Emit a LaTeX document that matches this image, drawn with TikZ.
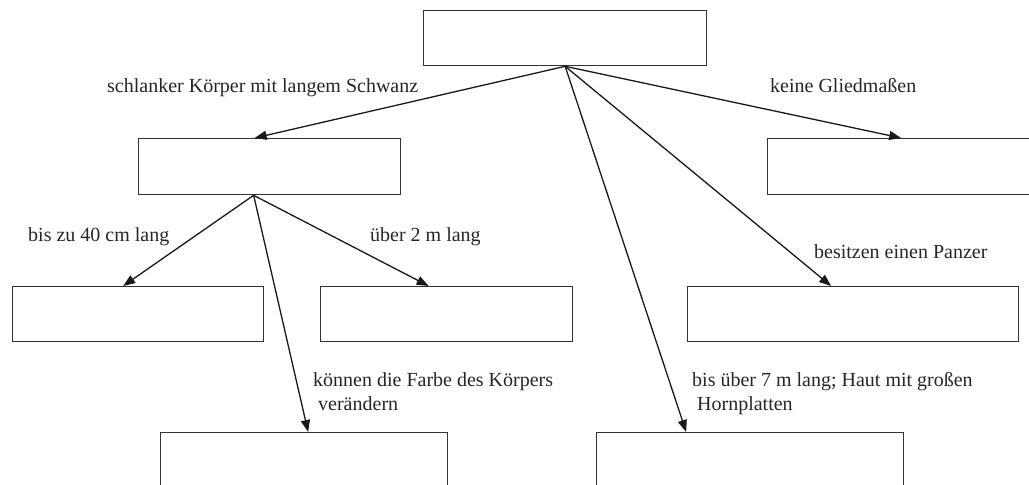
\documentclass[tikz,border=0pt]{standalone}
\usepackage{fontspec}
\setmainfont{Liberation Serif}
\usetikzlibrary{arrows.meta}
\pgfkeys{tikz/mytreeenv/.style={x=1pt,y=-1pt,font=\fontsize{20}{24}\selectfont}}
\pgfkeys{tikz/mybox/.style={draw=black!80,line width=1.3pt,inner sep=0pt,anchor=north west}}
\pgfkeys{tikz/myarrow/.style={-{Triangle[length=12pt,width=9pt]},line width=1.3pt,draw=black!90}}
\pgfkeys{tikz/mylabel/.style={inner sep=0pt,anchor=base west,text=black!85}}
\begin{document}
\begin{tikzpicture}[mytreeenv]
    \clip (0,0) rectangle (1029,485);
    % Kaesten
    \node[mybox,minimum width=283pt,minimum height=55pt] (root)   at (423,10)  {};
    \node[mybox,minimum width=262pt,minimum height=56pt] (lang)   at (138,138) {};
    \node[mybox,minimum width=283pt,minimum height=56pt] (ohne)   at (767,138) {};
    \node[mybox,minimum width=251pt,minimum height=55pt] (kurz)   at (12,286)  {};
    \node[mybox,minimum width=252pt,minimum height=55pt] (gross)  at (320,286) {};
    \node[mybox,minimum width=331pt,minimum height=55pt] (panzer) at (687,286) {};
    \node[mybox,minimum width=287pt,minimum height=60pt] (farbe)  at (160,432) {};
    \node[mybox,minimum width=307pt,minimum height=60pt] (horn)   at (596,432) {};
    % Pfeile
    \draw[myarrow] (root.south) -- ([xshift=-15pt]lang.north);
    \draw[myarrow] (root.south) -- ([xshift=-8pt]ohne.north);
    \draw[myarrow] (root.south) -- ([xshift=-22pt]panzer.north);
    \draw[myarrow] (root.south) -- ([xshift=-64pt]horn.north);
    \draw[myarrow] ([xshift=-16pt]lang.south) -- ([xshift=-15pt]kurz.north);
    \draw[myarrow] ([xshift=-16pt]lang.south) -- ([xshift=-18pt]gross.north);
    \draw[myarrow] ([xshift=-16pt]lang.south) -- ([xshift=4pt]farbe.north);
    % Beschriftungen
    \node[mylabel] (tlang)   at (107,92)  {schlanker Körper mit langem Schwanz};
    \node[mylabel] (tohne)   at (770,92)  {keine Gliedmaßen};
    \node[mylabel] (tkurz)   at (28,241)  {bis zu 40 cm lang};
    \node[mylabel] (tgross)  at (370,241) {über 2 m lang};
    \node[mylabel] (tpanzer) at (814,258) {besitzen einen Panzer};
    \node[mylabel,anchor=north west,align=left] (tfarbe) at (313,372)
        {können die Farbe des Körpers\\\ verändern};
    \node[mylabel,anchor=north west,align=left] (thorn) at (692,372)
        {bis über 7 m lang; Haut mit großen\\\ Hornplatten};
\end{tikzpicture}
\end{document}
